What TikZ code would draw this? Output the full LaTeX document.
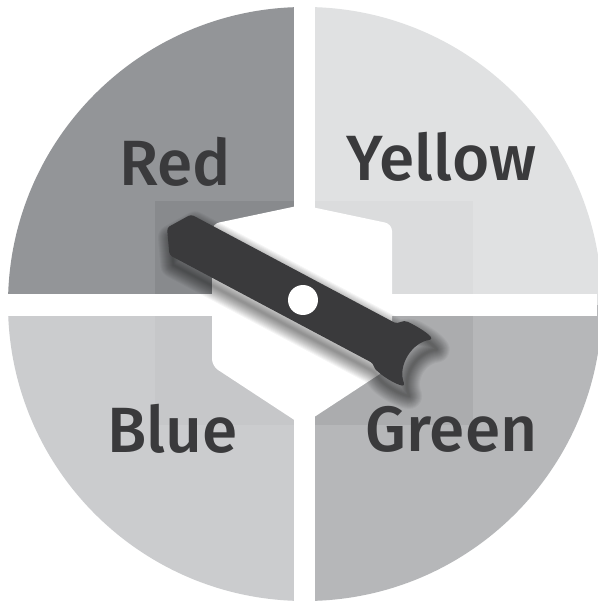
\documentclass[tikz,border=0pt]{standalone}
\usepackage{fontspec}
\newfontfamily\labfont{Fira Sans Medium}
\definecolor{cRed}{HTML}{939598}
\definecolor{cYellow}{HTML}{E0E1E2}
\definecolor{cBlue}{HTML}{CBCCCE}
\definecolor{cGreen}{HTML}{B6B7B9}
\definecolor{ink}{HTML}{3A3A3C}
\newcommand\spinnerpath{(-139,-23) -- (88,-23) .. controls (96,-23) and (97,-30) .. (106,-30) .. controls (117,-30) and (127,-29) .. (133,-26) .. controls (116,-14) and (114,14) .. (130.5,28) .. controls (122,31) and (108,30) .. (100,28) .. controls (95,27) and (92,23) .. (86,23) -- (-139,23) -- (-154,0) -- cycle}
\tikzset{
  lab/.style={font=\labfont\fontsize{64}{64}\selectfont, text=ink, anchor=base, inner sep=0pt},
}
\begin{document}
\begin{tikzpicture}[x=1pt,y=-1pt]
\useasboundingbox (0,0) rectangle (597,602);
\fill[white] (0,0) rectangle (597,602);
\begin{scope}
  \clip (305,304) circle[radius=297];
  \fill[cRed] (0,0) rectangle (305,305);
  \fill[cYellow] (305,0) rectangle (620,305);
  \fill[cBlue] (0,305) rectangle (305,620);
  \fill[cGreen] (305,305) rectangle (620,620);
  \fill[black, opacity=0.07] (155,201) rectangle (305,305);
  \fill[black, opacity=0.02] (305,201) rectangle (473,305);
  \fill[black, opacity=0.025] (155,305) rectangle (305,425);
  \fill[black, opacity=0.06] (305,305) rectangle (473,425);
\end{scope}
\fill[white] (294.3,0) rectangle (315,602);
\fill[white] (0,294.3) rectangle (597,315.7);
\fill[white, rounded corners=7pt] (302,205) -- (392,224) -- (392,366) -- (302,425) -- (212,366) -- (212,224) -- cycle;
\node[lab] (red) at (175,185) {Red};
\node[lab] (yellow) at (441.5,180) {Yellow};
\node[lab] (blue) at (172.5,452) {Blue};
\node[lab] (green) at (451.5,451) {Green};
\begin{scope}[shift={(307,310)}, rotate=-28]
  \foreach \w in {2,4,...,26}
    \draw[black, opacity=0.04, line width=\w pt, line join=round] \spinnerpath;
\end{scope}
\begin{scope}[shift={(303,300)}, rotate=-28]
  \fill[ink, rounded corners=3pt] \spinnerpath;
  \fill[white] (0,0) circle[radius=15];
\end{scope}
\end{tikzpicture}
\end{document}
